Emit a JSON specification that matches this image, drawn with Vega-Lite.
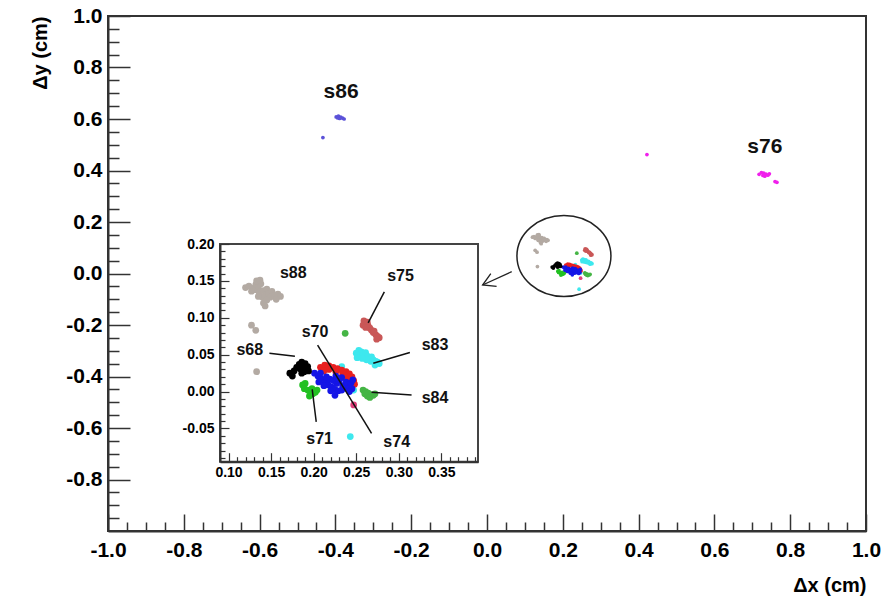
{
  "$schema": "https://vega.github.io/schema/vega-lite/v6.json",
  "width": 758,
  "height": 515,
  "autosize": {"type": "none"},
  "padding": {"left": 108, "top": 16, "right": 30, "bottom": 66},
  "background": "white",
  "config": {"view": {"stroke": "#333", "strokeWidth": 2}, "font": "Liberation Sans"},
  "datasets": {
    "pts": [
      {"x":0.120,"y":0.141,"g":"s88"},{"x":0.124,"y":0.143,"g":"s88"},{"x":0.128,"y":0.140,"g":"s88"},{"x":0.132,"y":0.145,"g":"s88"},{"x":0.131,"y":0.138,"g":"s88"},{"x":0.135,"y":0.141,"g":"s88"},{"x":0.138,"y":0.146,"g":"s88"},{"x":0.136,"y":0.135,"g":"s88"},{"x":0.141,"y":0.137,"g":"s88"},{"x":0.145,"y":0.139,"g":"s88"},{"x":0.143,"y":0.131,"g":"s88"},{"x":0.147,"y":0.133,"g":"s88"},{"x":0.151,"y":0.136,"g":"s88"},{"x":0.149,"y":0.128,"g":"s88"},{"x":0.154,"y":0.130,"g":"s88"},{"x":0.158,"y":0.132,"g":"s88"},{"x":0.161,"y":0.129,"g":"s88"},{"x":0.156,"y":0.125,"g":"s88"},{"x":0.140,"y":0.128,"g":"s88"},{"x":0.135,"y":0.129,"g":"s88"},{"x":0.145,"y":0.124,"g":"s88"},{"x":0.141,"y":0.120,"g":"s88"},{"x":0.143,"y":0.116,"g":"s88"},{"x":0.127,"y":0.136,"g":"s88"},{"x":0.133,"y":0.150,"g":"s88"},{"x":0.137,"y":0.151,"g":"s88"},
      {"x":0.127,"y":0.090,"g":"s88"},{"x":0.132,"y":0.083,"g":"s88"},{"x":0.133,"y":0.027,"g":"s88"},
      {"x":0.259,"y":0.096,"g":"s75"},{"x":0.262,"y":0.093,"g":"s75"},{"x":0.258,"y":0.090,"g":"s75"},{"x":0.264,"y":0.089,"g":"s75"},{"x":0.266,"y":0.086,"g":"s75"},{"x":0.268,"y":0.083,"g":"s75"},{"x":0.270,"y":0.080,"g":"s75"},{"x":0.273,"y":0.077,"g":"s75"},{"x":0.275,"y":0.075,"g":"s75"},{"x":0.277,"y":0.073,"g":"s75"},{"x":0.274,"y":0.071,"g":"s75"},{"x":0.271,"y":0.082,"g":"s75"},{"x":0.263,"y":0.094,"g":"s75"},{"x":0.261,"y":0.087,"g":"s75"},
      {"x":0.250,"y":0.052,"g":"s83"},{"x":0.253,"y":0.056,"g":"s83"},{"x":0.256,"y":0.054,"g":"s83"},{"x":0.254,"y":0.049,"g":"s83"},{"x":0.258,"y":0.051,"g":"s83"},{"x":0.261,"y":0.053,"g":"s83"},{"x":0.260,"y":0.046,"g":"s83"},{"x":0.263,"y":0.048,"g":"s83"},{"x":0.266,"y":0.045,"g":"s83"},{"x":0.268,"y":0.047,"g":"s83"},{"x":0.270,"y":0.043,"g":"s83"},{"x":0.273,"y":0.041,"g":"s83"},{"x":0.275,"y":0.040,"g":"s83"},{"x":0.277,"y":0.038,"g":"s83"},{"x":0.267,"y":0.041,"g":"s83"},{"x":0.262,"y":0.043,"g":"s83"},{"x":0.257,"y":0.045,"g":"s83"},{"x":0.272,"y":0.036,"g":"s83"},{"x":0.251,"y":0.046,"g":"s83"},
      {"x":0.233,"y":0.034,"g":"s83"},{"x":0.247,"y":0.002,"g":"s83"},{"x":0.243,"y":-0.061,"g":"s83"},
      {"x":0.258,"y":0.002,"g":"s84"},{"x":0.261,"y":0.000,"g":"s84"},{"x":0.264,"y":-0.002,"g":"s84"},{"x":0.267,"y":-0.004,"g":"s84"},{"x":0.263,"y":-0.006,"g":"s84"},{"x":0.260,"y":-0.003,"g":"s84"},{"x":0.266,"y":-0.008,"g":"s84"},{"x":0.270,"y":-0.005,"g":"s84"},{"x":0.272,"y":-0.003,"g":"s84"},
      {"x":0.237,"y":0.079,"g":"s84"},
      {"x":0.187,"y":0.009,"g":"s71"},{"x":0.190,"y":0.011,"g":"s71"},{"x":0.189,"y":0.004,"g":"s71"},{"x":0.193,"y":0.002,"g":"s71"},{"x":0.196,"y":0.000,"g":"s71"},{"x":0.199,"y":-0.003,"g":"s71"},{"x":0.202,"y":-0.001,"g":"s71"},{"x":0.198,"y":0.004,"g":"s71"},{"x":0.195,"y":-0.006,"g":"s71"},{"x":0.204,"y":0.002,"g":"s71"},
      {"x":0.208,"y":0.033,"g":"s70"},{"x":0.213,"y":0.036,"g":"s70"},{"x":0.218,"y":0.035,"g":"s70"},{"x":0.223,"y":0.033,"g":"s70"},{"x":0.228,"y":0.031,"g":"s70"},{"x":0.233,"y":0.029,"g":"s70"},{"x":0.238,"y":0.027,"g":"s70"},{"x":0.242,"y":0.024,"g":"s70"},{"x":0.245,"y":0.020,"g":"s70"},{"x":0.247,"y":0.015,"g":"s70"},{"x":0.240,"y":0.019,"g":"s70"},{"x":0.234,"y":0.024,"g":"s70"},{"x":0.226,"y":0.027,"g":"s70"},{"x":0.218,"y":0.030,"g":"s70"},{"x":0.212,"y":0.028,"g":"s70"},{"x":0.248,"y":0.010,"g":"s70"},
      {"x":0.201,"y":0.025,"g":"s74"},{"x":0.205,"y":0.021,"g":"s74"},{"x":0.209,"y":0.017,"g":"s74"},{"x":0.213,"y":0.013,"g":"s74"},{"x":0.217,"y":0.009,"g":"s74"},{"x":0.221,"y":0.006,"g":"s74"},{"x":0.225,"y":0.003,"g":"s74"},{"x":0.229,"y":0.001,"g":"s74"},{"x":0.233,"y":0.002,"g":"s74"},{"x":0.237,"y":0.005,"g":"s74"},{"x":0.241,"y":0.008,"g":"s74"},{"x":0.245,"y":0.004,"g":"s74"},{"x":0.242,"y":0.000,"g":"s74"},{"x":0.234,"y":0.008,"g":"s74"},{"x":0.227,"y":0.011,"g":"s74"},{"x":0.219,"y":0.017,"g":"s74"},{"x":0.208,"y":0.025,"g":"s74"},{"x":0.215,"y":0.020,"g":"s74"},{"x":0.223,"y":0.015,"g":"s74"},{"x":0.230,"y":0.015,"g":"s74"},{"x":0.238,"y":0.013,"g":"s74"},{"x":0.244,"y":0.012,"g":"s74"},{"x":0.212,"y":0.008,"g":"s74"},{"x":0.220,"y":0.001,"g":"s74"},{"x":0.206,"y":0.013,"g":"s74"},{"x":0.233,"y":0.019,"g":"s74"},{"x":0.226,"y":0.021,"g":"s74"},{"x":0.246,"y":0.016,"g":"s74"},
      {"x":0.225,"y":-0.005,"g":"s74"},
      {"x":0.172,"y":0.025,"g":"s68"},{"x":0.175,"y":0.021,"g":"s68"},{"x":0.177,"y":0.028,"g":"s68"},{"x":0.180,"y":0.033,"g":"s68"},{"x":0.183,"y":0.037,"g":"s68"},{"x":0.186,"y":0.040,"g":"s68"},{"x":0.184,"y":0.031,"g":"s68"},{"x":0.188,"y":0.035,"g":"s68"},{"x":0.190,"y":0.038,"g":"s68"},{"x":0.191,"y":0.030,"g":"s68"},{"x":0.193,"y":0.034,"g":"s68"},{"x":0.189,"y":0.027,"g":"s68"},{"x":0.186,"y":0.025,"g":"s68"},{"x":0.194,"y":0.028,"g":"s68"},
      {"x":0.247,"y":-0.018,"g":"pk"},
      {"x":-0.398,"y":0.608,"g":"s86"},{"x":-0.392,"y":0.611,"g":"s86"},{"x":-0.386,"y":0.607,"g":"s86"},{"x":-0.381,"y":0.603,"g":"s86"},{"x":-0.389,"y":0.602,"g":"s86"},{"x":-0.377,"y":0.600,"g":"s86"},{"x":-0.394,"y":0.604,"g":"s86"},{"x":-0.433,"y":0.528,"g":"s86"},
      {"x":0.718,"y":0.385,"g":"s76"},{"x":0.724,"y":0.392,"g":"s76"},{"x":0.730,"y":0.390,"g":"s76"},{"x":0.736,"y":0.386,"g":"s76"},{"x":0.741,"y":0.382,"g":"s76"},{"x":0.728,"y":0.381,"g":"s76"},{"x":0.733,"y":0.378,"g":"s76"},{"x":0.745,"y":0.387,"g":"s76"},{"x":0.760,"y":0.357,"g":"s76"},{"x":0.765,"y":0.354,"g":"s76"},{"x":0.422,"y":0.462,"g":"s76"}
    ],
    "mlabels": [
      {"x":-0.385,"y":0.705,"t":"s86"},
      {"x":0.733,"y":0.49,"t":"s76"}
    ],
    "ell": [{"x":0.203,"y":0.068}],
    "arrow": [
      {"seg":"a1","k":0,"x":0.0652,"y":0.007},{"seg":"a1","k":1,"x":-0.0116,"y":-0.0447},
      {"seg":"a2","k":0,"x":0.0253,"y":-0.0497},{"seg":"a2","k":1,"x":-0.0116,"y":-0.0447},{"seg":"a2","k":2,"x":0.0100,"y":-0.0004}
    ],
    "ibox": [{"x0":0.09,"x1":0.393,"y0":-0.095,"y1":0.2}],
    "ilines": [
      {"seg":"l75","k":0,"x":0.283,"y":0.135},{"seg":"l75","k":1,"x":0.264,"y":0.093},
      {"seg":"l70","k":0,"x":0.2046,"y":0.063},{"seg":"l70","k":1,"x":0.268,"y":-0.0565},
      {"seg":"l83","k":0,"x":0.313,"y":0.053},{"seg":"l83","k":1,"x":0.270,"y":0.0383},
      {"seg":"l68","k":0,"x":0.148,"y":0.052},{"seg":"l68","k":1,"x":0.178,"y":0.048},
      {"seg":"l71","k":0,"x":0.203,"y":-0.041},{"seg":"l71","k":1,"x":0.1983,"y":0.003},
      {"seg":"l84","k":0,"x":0.315,"y":-0.0046},{"seg":"l84","k":1,"x":0.268,"y":-0.001}
    ],
    "ilabels": [
      {"x":0.176,"y":0.161,"t":"s88"},
      {"x":0.302,"y":0.156,"t":"s75"},
      {"x":0.2016,"y":0.081,"t":"s70"},
      {"x":0.3425,"y":0.063,"t":"s83"},
      {"x":0.3425,"y":-0.009,"t":"s84"},
      {"x":0.207,"y":-0.0647,"t":"s71"},
      {"x":0.2975,"y":-0.068,"t":"s74"},
      {"x":0.125,"y":0.0564,"t":"s68"}
    ]
  },
  "layer": [
    {
      "layer": [
        {
          "data": {"name": "pts"},
          "mark": {"type": "point", "filled": true, "size": 14, "opacity": 1},
          "encoding": {
            "x": {"field": "x", "type": "quantitative", "scale": {"domain": [-1, 1], "nice": false, "zero": false},
              "axis": {
                "values": [-1,-0.95,-0.9,-0.85,-0.8,-0.75,-0.7,-0.65,-0.6,-0.55,-0.5,-0.45,-0.4,-0.35,-0.3,-0.25,-0.2,-0.15,-0.1,-0.05,0,0.05,0.1,0.15,0.2,0.25,0.3,0.35,0.4,0.45,0.5,0.55,0.6,0.65,0.7,0.75,0.8,0.85,0.9,0.95,1],
                "tickCount": 1000,
                "labelExpr": "abs(datum.value*5-round(datum.value*5))<0.01 ? replace(format(datum.value,'.1f'),'\u2212','-') : ''",
                "tickSize": {"condition": {"test": "abs(datum.value*5-round(datum.value*5))<0.01", "value": -17}, "value": -9},
                "labelPadding": 25,
                "grid": false, "domainColor": "#333", "domainWidth": 2, "tickColor": "#333", "tickWidth": 1.5,
                "labelFont": "Liberation Sans", "labelFontSize": 21, "labelFontWeight": "bold", "labelColor": "#000",
                "labelFlush": false, "labelOverlap": false, "labelBound": false,
                "title": "Δx (cm)", "titleAnchor": "end", "titleFont": "Liberation Sans", "titleFontSize": 20, "titleFontWeight": "bold", "titleColor": "#000", "titlePadding": 7
              }
            },
            "y": {"field": "y", "type": "quantitative", "scale": {"domain": [-1, 1], "nice": false, "zero": false},
              "axis": {
                "values": [-0.95,-0.9,-0.85,-0.8,-0.75,-0.7,-0.65,-0.6,-0.55,-0.5,-0.45,-0.4,-0.35,-0.3,-0.25,-0.2,-0.15,-0.1,-0.05,0,0.05,0.1,0.15,0.2,0.25,0.3,0.35,0.4,0.45,0.5,0.55,0.6,0.65,0.7,0.75,0.8,0.85,0.9,0.95,1],
                "tickCount": 1000,
                "labelExpr": "abs(datum.value*5-round(datum.value*5))<0.01 ? replace(format(datum.value,'.1f'),'\u2212','-') : ''",
                "tickSize": {"condition": {"test": "abs(datum.value*5-round(datum.value*5))<0.01", "value": -22}, "value": -11},
                "labelPadding": 28,
                "grid": false, "domainColor": "#333", "domainWidth": 2, "tickColor": "#333", "tickWidth": 1.5,
                "labelFont": "Liberation Sans", "labelFontSize": 21, "labelFontWeight": "bold", "labelColor": "#000",
                "labelFlush": false, "labelOverlap": false, "labelBound": false,
                "title": "Δy (cm)", "titleAnchor": "end", "titleFont": "Liberation Sans", "titleFontSize": 20, "titleFontWeight": "bold", "titleColor": "#000", "titlePadding": 15
              }
            },
            "color": {"field": "g", "type": "nominal", "legend": null,
              "scale": {"domain": ["s88","s75","s83","s84","s71","s70","s74","s68","pk","s86","s76"],
                "range": ["#b3aaa3","#c95757","#3ee8ee","#45b545","#22c022","#e82020","#1515e6","#000000","#e0407a","#5b52d8","#f020ec"]}}
          }
        },
        {
          "data": {"name": "mlabels"},
          "mark": {"type": "text", "font": "Liberation Sans", "fontSize": 21, "fontWeight": "bold", "color": "#111"},
          "encoding": {"x": {"field": "x", "type": "quantitative"}, "y": {"field": "y", "type": "quantitative"}, "text": {"field": "t"}}
        },
        {
          "data": {"name": "ell"},
          "mark": {"type": "point", "filled": false, "shape": "M 1 0 C 1 0.475 0.552 0.86 0 0.86 C -0.552 0.86 -1 0.475 -1 0 C -1 -0.475 -0.552 -0.86 0 -0.86 C 0.552 -0.86 1 -0.475 1 0 Z", "size": 8836, "stroke": "#222", "strokeWidth": 1.5, "opacity": 1},
          "encoding": {"x": {"field": "x", "type": "quantitative"}, "y": {"field": "y", "type": "quantitative"}}
        },
        {
          "data": {"name": "arrow"},
          "mark": {"type": "line", "color": "#222", "strokeWidth": 1.3},
          "encoding": {"x": {"field": "x", "type": "quantitative"}, "y": {"field": "y", "type": "quantitative"}, "detail": {"field": "seg"}, "order": {"field": "k"}}
        }
      ]
    },
    {
      "layer": [
        {
          "data": {"name": "ibox"},
          "mark": {"type": "rect", "fill": "white", "stroke": "#444", "strokeWidth": 2},
          "encoding": {
            "x": {"field": "x0", "type": "quantitative", "scale": {"domain": [0.09, 0.393], "range": [112, 370], "nice": false, "zero": false},
              "axis": {
                "orient": "bottom", "offset": -69.3, "zindex": 1,
                "values": [0.09,0.1,0.11,0.12,0.13,0.14,0.15,0.16,0.17,0.18,0.19,0.2,0.21,0.22,0.23,0.24,0.25,0.26,0.27,0.28,0.29,0.3,0.31,0.32,0.33,0.34,0.35,0.36,0.37,0.38,0.39],
                "tickCount": 1000,
                "labelExpr": "abs(datum.value*20-round(datum.value*20))<0.01 ? format(datum.value,'.2f') : ''",
                "tickSize": {"condition": {"test": "abs(datum.value*20-round(datum.value*20))<0.01", "value": -9}, "value": -5},
                "labelPadding": 13,
                "grid": false, "domainColor": "#333", "domainWidth": 2, "tickColor": "#333", "tickWidth": 1.2,
                "labelFont": "Liberation Sans", "labelFontSize": 14, "labelFontWeight": "bold", "labelColor": "#000",
                "labelFlush": false, "labelOverlap": false, "labelBound": false, "title": null
              }
            },
            "x2": {"field": "x1"},
            "y": {"field": "y0", "type": "quantitative", "scale": {"domain": [-0.095, 0.2], "range": [445.7, 228], "nice": false, "zero": false},
              "axis": {
                "orient": "left", "offset": -112, "zindex": 1,
                "values": [-0.09,-0.08,-0.07,-0.06,-0.05,-0.04,-0.03,-0.02,-0.01,0,0.01,0.02,0.03,0.04,0.05,0.06,0.07,0.08,0.09,0.1,0.11,0.12,0.13,0.14,0.15,0.16,0.17,0.18,0.19,0.2],
                "tickCount": 1000,
                "labelExpr": "abs(datum.value*20-round(datum.value*20))<0.01 ? replace(format(datum.value,'.2f'),'\u2212','-') : ''",
                "tickSize": {"condition": {"test": "abs(datum.value*20-round(datum.value*20))<0.01", "value": -9}, "value": -5},
                "labelPadding": 15,
                "grid": false, "domainColor": "#333", "domainWidth": 2, "tickColor": "#333", "tickWidth": 1.2,
                "labelFont": "Liberation Sans", "labelFontSize": 14, "labelFontWeight": "bold", "labelColor": "#000",
                "labelFlush": false, "labelOverlap": false, "labelBound": false, "title": null
              }
            },
            "y2": {"field": "y1"}
          }
        },
        {
          "data": {"name": "pts"},
          "transform": [{"filter": "datum.x > 0.09 && datum.x < 0.393 && datum.y > -0.095 && datum.y < 0.2"}],
          "mark": {"type": "point", "filled": true, "size": 45, "opacity": 1},
          "encoding": {
            "x": {"field": "x", "type": "quantitative"},
            "y": {"field": "y", "type": "quantitative"},
            "color": {"field": "g", "type": "nominal", "legend": null}
          }
        },
        {
          "data": {"name": "ilines"},
          "mark": {"type": "line", "color": "#111", "strokeWidth": 1.5},
          "encoding": {"x": {"field": "x", "type": "quantitative"}, "y": {"field": "y", "type": "quantitative"}, "detail": {"field": "seg"}, "order": {"field": "k"}}
        },
        {
          "data": {"name": "ilabels"},
          "mark": {"type": "text", "font": "Liberation Sans", "fontSize": 16, "fontWeight": "bold", "color": "#111"},
          "encoding": {"x": {"field": "x", "type": "quantitative"}, "y": {"field": "y", "type": "quantitative"}, "text": {"field": "t"}}
        }
      ]
    }
  ],
  "resolve": {"scale": {"x": "independent", "y": "independent"}}
}
